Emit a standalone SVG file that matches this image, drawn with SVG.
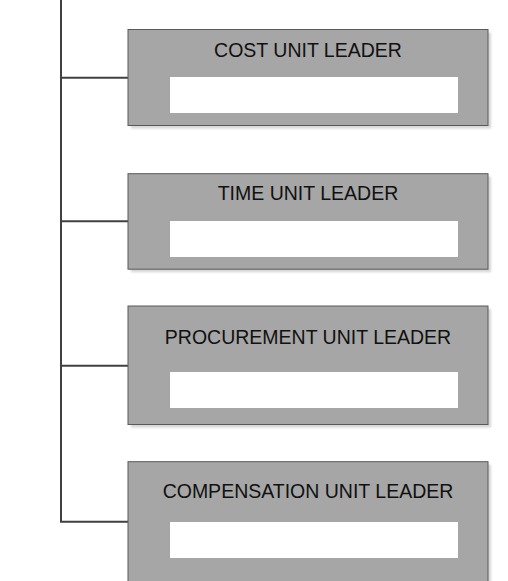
<svg xmlns="http://www.w3.org/2000/svg" width="508" height="581" viewBox="0 0 508 581">
<defs>
<filter id="sh" x="-10%" y="-10%" width="120%" height="130%"><feGaussianBlur stdDeviation="1.2"/></filter>
<style>
.shadow{fill:#d6d6d6;filter:url(#sh)}
.box{fill:#a6a6a6;stroke:#595959;stroke-width:1}
.field{fill:#ffffff}
.lbl{font-family:"Liberation Sans",Arial,sans-serif;font-size:19.5px;fill:#111111;text-anchor:middle}
.conn{fill:none;stroke:#404040;stroke-width:2}
</style>
</defs>
<rect width="508" height="581" fill="#ffffff"/>
<g id="connectors">
<path class="conn" d="M61,0 V521.7 H128"/>
<path class="conn" d="M61,77.7 H128"/>
<path class="conn" d="M61,221.3 H128"/>
<path class="conn" d="M61,365.7 H128"/>
</g>
<g id="cost">
<rect class="shadow" x="131" y="32.5" width="360" height="96"/>
<rect class="box" x="128" y="29.5" width="360" height="96"/>
<rect class="field" x="170" y="77" width="288" height="36"/>
<text class="lbl" x="308" y="56.5">COST UNIT LEADER</text>
</g>
<g id="time">
<rect class="shadow" x="131" y="176.7" width="360" height="95.5"/>
<rect class="box" x="128" y="173.7" width="360" height="95.5"/>
<rect class="field" x="170" y="221" width="288" height="36"/>
<text class="lbl" x="308" y="200">TIME UNIT LEADER</text>
</g>
<g id="procurement">
<rect class="shadow" x="131" y="309" width="360" height="118.5"/>
<rect class="box" x="128" y="306" width="360" height="118.5"/>
<rect class="field" x="170" y="372" width="288" height="36"/>
<text class="lbl" x="308" y="344.3">PROCUREMENT UNIT LEADER</text>
</g>
<g id="compensation">
<rect class="shadow" x="131" y="464.7" width="360" height="120"/>
<rect class="box" x="128" y="461.7" width="360" height="120"/>
<rect class="field" x="170" y="522" width="288" height="36"/>
<text class="lbl" x="308" y="498.3">COMPENSATION UNIT LEADER</text>
</g>
</svg>
